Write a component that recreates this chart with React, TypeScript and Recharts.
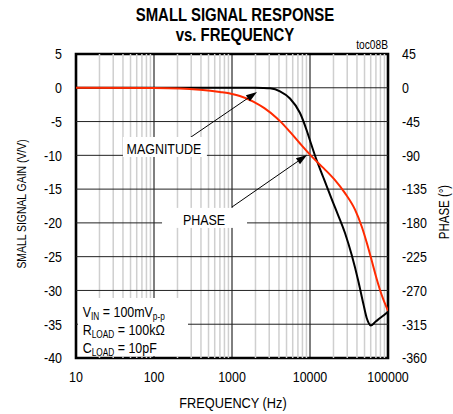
import React from 'react';
import {
  ComposedChart,
  Line,
  XAxis,
  YAxis,
  ReferenceLine,
  ReferenceArea,
  ReferenceDot,
} from 'recharts';

const FONT = "'Liberation Sans',Arial,sans-serif";
const SX = 0.83; // horizontal condensing to imitate a narrow face

// Frequency axis
const freqTicks = [10, 100, 1000, 10000, 100000];
const minorFreqs = [
  20, 30, 40, 50, 60, 70, 80, 90,
  200, 300, 400, 500, 600, 700, 800, 900,
  2000, 3000, 4000, 5000, 6000, 7000, 8000, 9000,
  20000, 30000, 40000, 50000, 60000, 70000, 80000, 90000,
];
const majorFreqs = [100, 1000, 10000];

// Left axis (gain, V/V)
const gainTicks = [-40, -35, -30, -25, -20, -15, -10, -5, 0, 5];
const gainGrid = [-35, -30, -25, -20, -15, -10, -5, 0];
// Right axis (phase, degrees)
const phaseTicks = [-360, -315, -270, -225, -180, -135, -90, -45, 0, 45];

// Magnitude series (black)
const magFreq = [10, 1000, 2000, 2500, 3070, 4125, 5540, 7445, 9080, 10000, 11580, 14830, 17180, 20930, 28100, 34270, 41600, 48200, 53330, 56400, 60000, 70200, 80000, 90000, 100000];
const magGain = [0, 0, 0, -0.02, -0.08, -0.52, -1.59, -3.73, -6.32, -7.8, -10.02, -13.28, -15.2, -17.72, -21.5, -24.76, -28.6, -31.93, -34.08, -34.8, -35.2, -34.57, -34.05, -33.6, -33.15];

// Phase series (red)
const phaseFreq = [10, 100, 215, 389, 700, 1000, 1260, 1875, 2600, 3740, 4125, 5540, 7445, 10000, 13430, 15560, 20930, 28100, 37760, 46030, 53330, 61820, 71650, 83030, 100000];
const phaseDeg = [0, -0.3, -0.9, -2.6, -5.6, -8.2, -10.9, -18.3, -27.2, -40.3, -44.4, -58.8, -74.2, -89, -102.5, -109, -123.1, -140.4, -162.4, -184.8, -206.1, -230.1, -254.7, -276.1, -297.1];

const magData = magFreq.map((f, i) => ({ f, v: magGain[i] }));
const phaseData = phaseFreq.map((f, i) => ({ f, v: phaseDeg[i] }));

// Annotations (data coordinates on the gain axis)
const magArrow = [{ x: 289, y: -7.4 }, { x: 2092, y: -0.62 }];
const phaseArrow = [{ x: 1000, y: -17.65 }, { x: 9152, y: -9.95 }];
const magLabel = { x: 134, y: -9.8, text: 'MAGNITUDE' };
const phaseLabel = { x: 438, y: -20.3, text: 'PHASE' };

const Arrow = (p: any) => {
  const { x1, y1, x2, y2 } = p;
  const ang = Math.atan2(y2 - y1, x2 - x1);
  const L = 11, W = 3.6;
  const bx = x2 - L * Math.cos(ang), by = y2 - L * Math.sin(ang);
  const px = -Math.sin(ang) * W, py = Math.cos(ang) * W;
  return (
    <g>
      <line x1={x1} y1={y1} x2={bx} y2={by} stroke="#000" strokeWidth={1} />
      <polygon points={`${x2},${y2} ${bx + px},${by + py} ${bx - px},${by - py}`} fill="#000" />
    </g>
  );
};

const LabelBox = (w1: number, w2: number, text: string) => (p: any) => {
  const { cx, cy } = p;
  return (
    <g>
      <rect x={cx - w1} y={cy - 17} width={w1 + w2} height={20} fill="#fff" />
      <text transform={`translate(${cx},${cy}) scale(${SX},1)`} textAnchor="middle" fontFamily={FONT} fontSize={15} fill="#000">{text}</text>
    </g>
  );
};

const CondBox = (p: any) => {
  const { cx, cy } = p;
  const tx = cx + 6.7;
  const line = (y: number, content: any) => (
    <text transform={`translate(${tx},${y}) scale(${SX},1)`} fontFamily={FONT} fontSize={15} fill="#000">{content}</text>
  );
  return (
    <g>
      <rect x={cx + 2} y={cy - 60} width={110} height={58} fill="#fff" />
      {line(cy - 41.3, <>V<tspan fontSize={10} dy={3}>IN</tspan><tspan dy={-3}> = 100mV</tspan><tspan fontSize={10} dy={3}>p-p</tspan></>)}
      {line(cy - 23, <>R<tspan fontSize={10} dy={3}>LOAD</tspan><tspan dy={-3}> = 100kΩ</tspan></>)}
      {line(cy - 5, <>C<tspan fontSize={10} dy={3}>LOAD</tspan><tspan dy={-3}> = 10pF</tspan></>)}
    </g>
  );
};

const makeTick = (anchor: string, dy: string) => (p: any) => {
  const { x, y, payload } = p;
  return (
    <text
      transform={`translate(${x},${y}) scale(${SX},1)`}
      textAnchor={anchor}
      dy={dy}
      fontFamily={FONT}
      fontSize={15}
      fill="#000"
    >
      {String(payload.value)}
    </text>
  );
};

export default function App() {
  return (
    <div style={{ position: 'absolute', left: 0, top: 0, width: 453, height: 414, background: '#fff' }}>
      <ComposedChart width={453} height={414} margin={{ top: 54, right: 5, bottom: 5, left: 5 }}>
        <XAxis
          xAxisId="f"
          dataKey="f"
          type="number"
          scale="log"
          domain={[10, 100000]}
          allowDataOverflow
          ticks={freqTicks}
          interval={0}
          height={51}
          axisLine={false}
          tickLine={false}
          tickSize={6}
          tickMargin={7}
          tick={makeTick('middle', '0.71em')}
        />
        <YAxis
          yAxisId="g"
          type="number"
          domain={[-40, 5]}
          allowDataOverflow
          ticks={gainTicks}
          interval={0}
          width={71}
          axisLine={false}
          tickLine={false}
          tickSize={6}
          tickMargin={8}
          tick={makeTick('end', '0.355em')}
        />
        <YAxis
          yAxisId="p"
          orientation="right"
          type="number"
          domain={[-360, 45]}
          allowDataOverflow
          ticks={phaseTicks}
          interval={0}
          width={60}
          axisLine={false}
          tickLine={false}
          tickSize={6}
          tickMargin={8}
          tick={makeTick('start', '0.355em')}
        />

        {minorFreqs.map((f) => (
          <ReferenceLine key={'m' + f} xAxisId="f" yAxisId="g" x={f} stroke="#cfcfcf" strokeWidth={1.5} />
        ))}
        {majorFreqs.map((f) => (
          <ReferenceLine key={'M' + f} xAxisId="f" yAxisId="g" x={f} stroke="#000" strokeWidth={1} />
        ))}
        {gainGrid.map((g) => (
          <ReferenceLine key={'h' + g} xAxisId="f" yAxisId="g" y={g} stroke="#222" strokeWidth={1} />
        ))}

        <ReferenceDot xAxisId="f" yAxisId="g" x={magLabel.x} y={magLabel.y} ifOverflow="visible" shape={LabelBox(41, 43, magLabel.text)} />
        <ReferenceDot xAxisId="f" yAxisId="g" x={phaseLabel.x} y={phaseLabel.y} ifOverflow="visible" shape={LabelBox(42, 43, phaseLabel.text)} />
        <ReferenceDot xAxisId="f" yAxisId="g" x={10} y={-40} ifOverflow="visible" shape={CondBox} />

        <Line
          xAxisId="f"
          yAxisId="g"
          data={magData}
          dataKey="v"
          type="monotone"
          stroke="#000"
          strokeWidth={2}
          dot={false}
          isAnimationActive={false}
        />
        <Line
          xAxisId="f"
          yAxisId="p"
          data={phaseData}
          dataKey="v"
          type="monotone"
          stroke="#ff2a00"
          strokeWidth={2}
          dot={false}
          isAnimationActive={false}
        />

        <ReferenceLine xAxisId="f" yAxisId="g" segment={magArrow} ifOverflow="visible" shape={Arrow} />
        <ReferenceLine xAxisId="f" yAxisId="g" segment={phaseArrow} ifOverflow="visible" shape={Arrow} />

        <ReferenceArea xAxisId="f" yAxisId="g" x1={10} x2={100000} y1={-40} y2={5} fill="none" fillOpacity={0} stroke="#000" strokeWidth={2.6} ifOverflow="visible" />
      </ComposedChart>
      <svg width={453} height={414} style={{ position: 'absolute', left: 0, top: 0, pointerEvents: 'none' }}>
        <text transform={`translate(235,21) scale(${SX},1)`} textAnchor="middle" fontFamily={FONT} fontWeight="bold" fontSize={18} fill="#000">SMALL SIGNAL RESPONSE</text>
        <text transform={`translate(235,40.5) scale(${SX},1)`} textAnchor="middle" fontFamily={FONT} fontWeight="bold" fontSize={18} fill="#000">vs. FREQUENCY</text>
        <text transform="translate(388,49) scale(0.85,1)" textAnchor="end" fontFamily={FONT} fontSize={12} fill="#000">toc08B</text>
        <text transform="translate(233,408) scale(0.85,1)" textAnchor="middle" fontFamily={FONT} fontSize={15} fill="#000">FREQUENCY (Hz)</text>
        <text transform="translate(26,204) rotate(-90) scale(0.8,1)" textAnchor="middle" fontFamily={FONT} fontSize={13} fill="#000">SMALL SIGNAL GAIN (V/V)</text>
        <text transform="translate(449,212) rotate(-90) scale(0.82,1)" textAnchor="middle" fontFamily={FONT} fontSize={14} fill="#000">PHASE (°)</text>
      </svg>
    </div>
  );
}
